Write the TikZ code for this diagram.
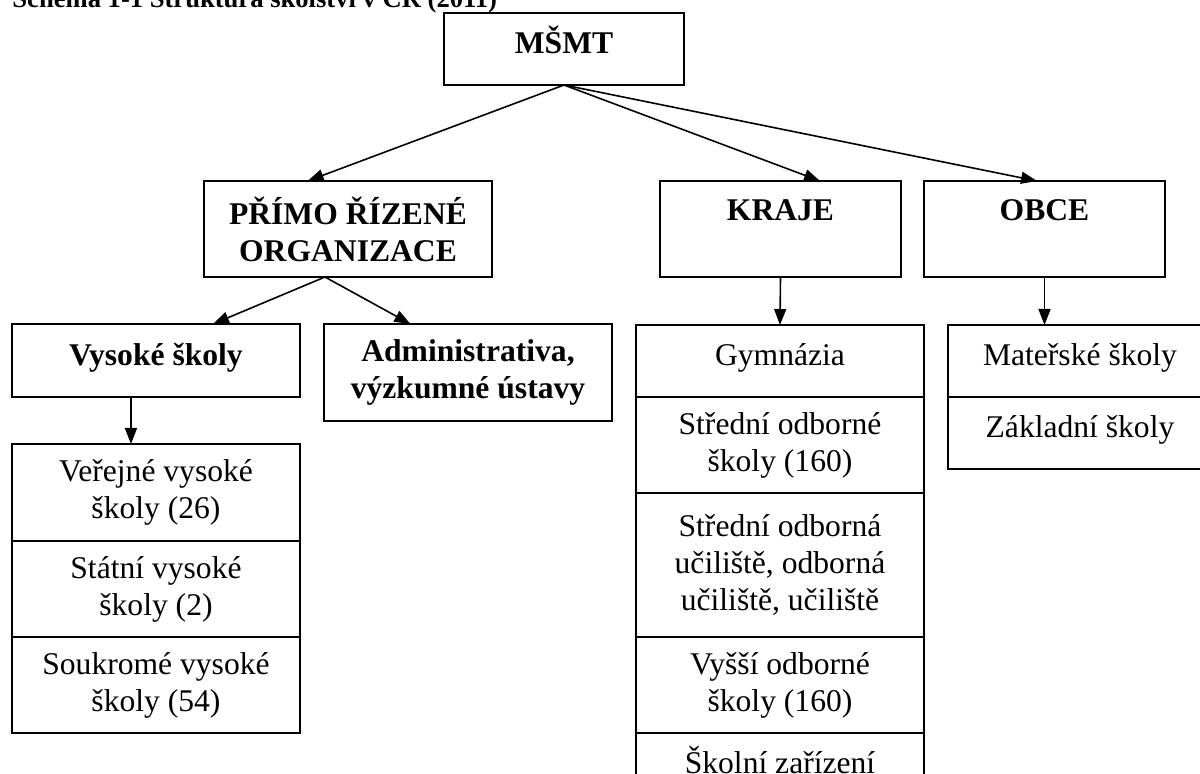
\documentclass[tikz,border=0pt]{standalone}
\usepackage{fontspec}
\setmainfont{Liberation Serif}
\usetikzlibrary{arrows.meta,positioning,calc}

\begin{document}
\begin{tikzpicture}[x=0.5pt,y=-0.5pt,
  box/.style={draw,line width=1pt,inner sep=0pt,outer sep=0pt,align=center,
    font=\fontsize{15.8pt}{18.5pt}\selectfont},
  head/.style={box,font=\fontsize{15.8pt}{18.5pt}\selectfont\bfseries},
  oneline/.style={text height=10.3pt,text depth=5.5pt},
  tophead/.style={text height=20pt,text depth=28pt},
  arr/.style={line width=0.8pt,-{Triangle[length=8pt,width=6pt]}}]
 \useasboundingbox (0,0) rectangle (1200,774);
 \clip (0,0) rectangle (1200,774);
 \node[anchor=base west,inner sep=0pt,font=\fontsize{13.3pt}{16pt}\selectfont\bfseries] (title) at (12,8) {Schéma 1-1 Struktura školství v ČR (2011)};
% top and second level
 \node[head,oneline,minimum width=120pt,minimum height=36pt,anchor=north west] (msmt) at (444,13) {MŠMT};
 \node[head,minimum width=144pt,minimum height=48pt,anchor=north west] (prim) at (204,181) {PŘÍMO ŘÍZENÉ\\ORGANIZACE};
 \node[head,tophead,minimum width=120.5pt,anchor=north west] (kraje) at (660,181) {KRAJE};
 \node[head,tophead,minimum width=120.5pt,anchor=north west] (obce) at (924,181) {OBCE};
 \node[head,oneline,minimum width=144pt,minimum height=36.5pt,anchor=north west] (vys) at (12,324) {Vysoké školy};
 \node[head,minimum width=144pt,minimum height=48.5pt,anchor=north west] (adm) at (324,324) {Administrativa,\\výzkumné ústavy};
% vysoke skoly
 \node[box,minimum width=144pt,minimum height=48.5pt,anchor=north west] (ver) at (12,444) {Veřejné vysoké\\školy (26)};
 \node[box,minimum width=144pt,minimum height=48pt,below=0pt of ver] (stat) {Státní vysoké\\školy (2)};
 \node[box,minimum width=144pt,minimum height=48pt,below=0pt of stat] (souk) {Soukromé vysoké\\školy (54)};
% kraje
 \node[box,oneline,minimum width=144pt,minimum height=36pt,anchor=north west] (gym) at (636,325) {Gymnázia};
 \node[box,minimum width=144pt,minimum height=48pt,below=0pt of gym] (sos) {Střední odborné\\školy (160)};
 \node[box,minimum width=144pt,minimum height=72pt,below=0pt of sos] (sou) {Střední odborná\\učiliště, odborná\\učiliště, učiliště};
 \node[box,minimum width=144pt,minimum height=48pt,below=0pt of sou] (vos) {Vyšší odborné\\školy (160)};
 \node[box,oneline,minimum width=144pt,minimum height=36pt,below=0pt of vos] (szar) {Školní zařízení};
% obce
 \node[box,oneline,minimum width=132pt,minimum height=36pt,anchor=north west] (ms) at (948,325) {Mateřské školy};
 \node[box,oneline,minimum width=132pt,minimum height=36pt,below=0pt of ms] (zs) {Základní školy};
% arrows
 \draw[arr] (msmt.south) -- ($(prim.north west)!.36!(prim.north east)$);
 \draw[arr] (msmt.south) -- ($(kraje.north west)!.664!(kraje.north east)$);
 \draw[arr] (msmt.south) -- ($(obce.north west)!.469!(obce.north east)$);
 \draw[arr] ($(prim.south west)!.42!(prim.south east)$) -- ($(vys.north west)!.698!(vys.north east)$);
 \draw[arr] ($(prim.south west)!.42!(prim.south east)$) -- ($(adm.north west)!.3!(adm.north east)$);
 \draw[arr] ($(vys.south west)!.413!(vys.south east)$) -- ($(ver.north west)!.413!(ver.north east)$);
 \draw[arr] (kraje.south) -- (gym.north);
 \draw[arr] (obce.south) -- (obce.south |- ms.north);
\end{tikzpicture}
\end{document}
